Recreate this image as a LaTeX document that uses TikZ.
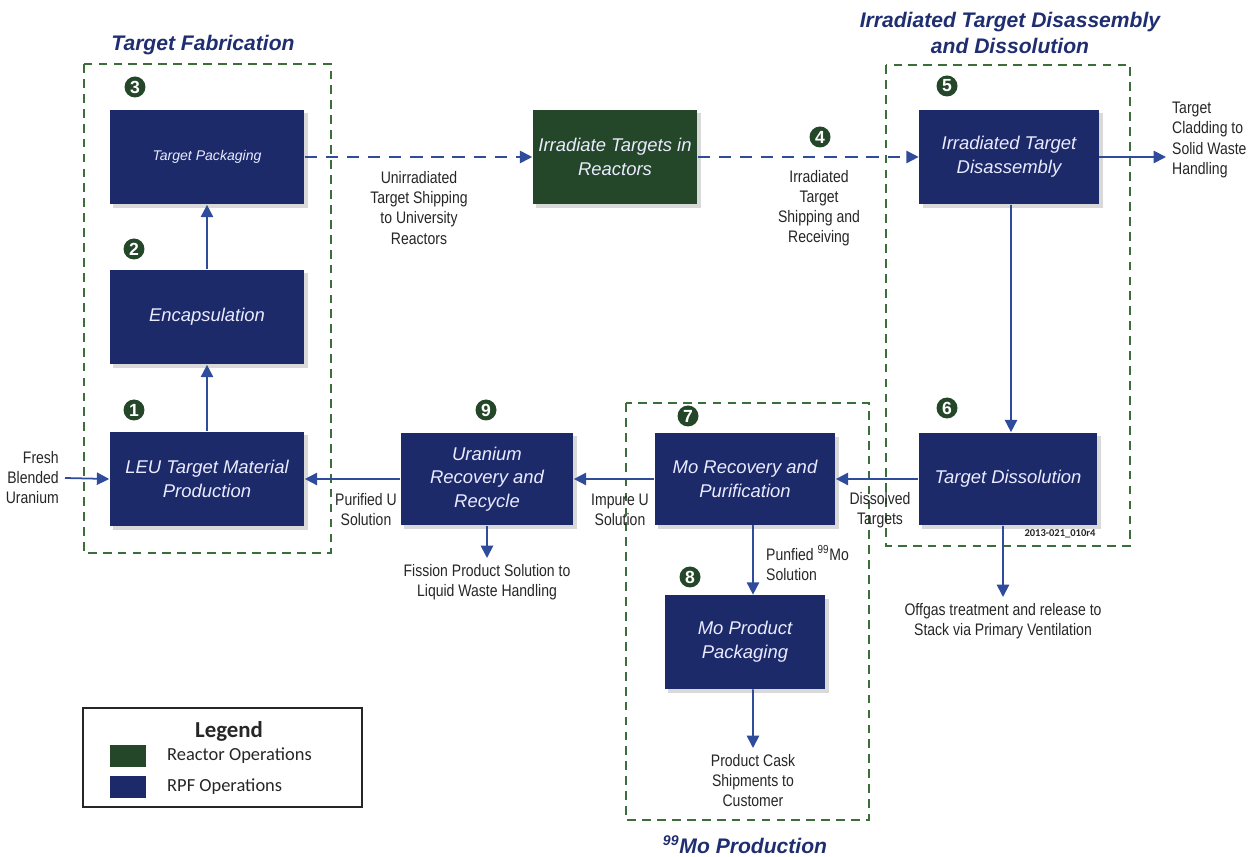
\documentclass[tikz,border=0pt]{standalone}
\usepackage{fontspec}
\setmainfont{Liberation Sans}
\newfontfamily\lblfont{Liberation Sans}[FakeStretch=0.84]
\newfontfamily\legfont{Carlito}
\usepackage{xcolor}
\usepackage{tikz}
\usetikzlibrary{arrows.meta,shadows}

\definecolor{rpfblue}{HTML}{1C2A6A}
\definecolor{rxgreen}{HTML}{24472A}
\definecolor{flowblue}{HTML}{2F4C9C}
\definecolor{grpgreen}{HTML}{3C6E3A}
\definecolor{titleblue}{HTML}{1F2E70}
\definecolor{lbltext}{HTML}{262626}

\tikzset{
  proc/.style={fill=rpfblue, minimum height=1.9cm, text=white!92!blue,
    font=\itshape\fontsize{10.5}{13.5}\selectfont, align=center,
    drop shadow={opacity=0.3, shadow xshift=2pt, shadow yshift=-2pt}},
  grpbox/.style={draw=grpgreen, line width=0.9pt, dash pattern=on 5pt off 3.5pt},
  grptitle/.style={text=titleblue, font=\bfseries\itshape\fontsize{12}{15}\selectfont, align=center},
  badge/.style={circle, fill=rxgreen, text=white, inner sep=0pt, minimum size=0.42cm,
    font=\bfseries\fontsize{10}{10}\selectfont},
  lbl/.style={text=lbltext, font=\lblfont\fontsize{9.5}{11.4}\selectfont, align=center},
  flow/.style={draw=flowblue, line width=1pt, -{Triangle[length=7pt,width=7pt]}},
  ship/.style={flow, dash pattern=on 7pt off 5pt}
}

\begin{document}
\begin{tikzpicture}[x=0.02cm, y=-0.02cm]
\useasboundingbox (0,0) rectangle (1251,857);

% group frames
\draw[grpbox] (84,64) rectangle (331,553);
\draw[grpbox] (886,65) rectangle (1130,546);
\draw[grpbox] (626,403) rectangle (869,820);
\node[grptitle] (fabTitle) at (203,45) {Target Fabrication};
\node[grptitle] (disTitle) at (1010,33) {Irradiated Target Disassembly\\and Dissolution};
\node[grptitle] (moTitle) at (745,845) {\textsuperscript{99}Mo Production};

% process boxes
\node[proc, minimum width=3.9cm, font=\itshape\fontsize{8}{10}\selectfont] (pack) at (207,157) {Target Packaging};
\node[proc, minimum width=3.9cm] (encap) at (207,317) {Encapsulation};
\node[proc, minimum width=3.9cm] (leu) at (207,479) {LEU Target Material\\Production};
\node[proc, minimum width=3.28cm, fill=rxgreen] (irr) at (615,157) {Irradiate Targets in\\Reactors};
\node[proc, minimum width=3.6cm] (disasm) at (1009,157) {Irradiated Target\\Disassembly};
\node[proc, minimum width=3.58cm, minimum height=1.86cm] (diss) at (1008,479) {Target Dissolution};
\node[proc, minimum width=3.62cm, minimum height=1.84cm] (morec) at (745,479) {Mo Recovery and\\Purification};
\node[proc, minimum width=3.46cm, minimum height=1.86cm] (urec) at (487,479) {Uranium\\Recovery and\\Recycle};
\node[proc, minimum width=3.22cm, minimum height=1.88cm] (mopack) at (745,642) {Mo Product\\Packaging};

% step numbers
\node[badge] (n1) at (134,410) {1};
\node[badge] (n2) at (134,249) {2};
\node[badge] (n3) at (135,87) {3};
\node[badge] (n4) at (820,137) {4};
\node[badge] (n5) at (947,86) {5};
\node[badge] (n6) at (947,408) {6};
\node[badge] (n7) at (688,416) {7};
\node[badge] (n8) at (690,577) {8};
\node[badge] (n9) at (486,410) {9};

% labels
\node[lbl] (unirr) at (419,208) {Unirradiated\\Target Shipping\\to University\\Reactors};
\node[lbl] (irrship) at (819,208) {Irradiated\\Target\\Shipping and\\Receiving};
\node[lbl, align=left, anchor=west] (clad) at (1166,140) {Target\\Cladding to\\Solid Waste\\Handling};
\node[lbl, align=right, anchor=east] (fresh) at (65,478) {Fresh\\Blended\\Uranium};
\node[lbl] (puru) at (366,510) {Purified U\\Solution};
\node[lbl] (impu) at (620,510) {Impure U\\Solution};
\node[lbl] (dissolved) at (880,510) {Dissolved\\Targets};
\node[lbl, align=left, anchor=west] (pumo) at (760,563) {Punfied \textsuperscript{99}Mo\\Solution};
\node[lbl, anchor=north] (fission) at (487,558) {Fission Product Solution to\\Liquid Waste Handling};
\node[lbl, anchor=north] (offgas) at (1003,597) {Offgas treatment and release to\\Stack via Primary Ventilation};
\node[lbl, anchor=north] (cask) at (753,748) {Product Cask\\Shipments to\\Customer};
\node[font=\legfont\bfseries\fontsize{6}{7}\selectfont, text=lbltext] (figid) at (1060,534) {2013-021\_010r4};

% flows
\draw[flow] (leu) -- (encap);
\draw[flow] (encap) -- (pack);
\draw[ship] (pack) -- (irr);
\draw[ship] (irr) -- (disasm);
\draw[flow] (disasm.east) -- (disasm.east -| clad.west);
\draw[flow] ([xshift=0.04cm]disasm.south) -- ([xshift=0.06cm]diss.north);
\draw[flow] ([xshift=-0.1cm]diss.south) -- (offgas.north);
\draw[flow] (diss) -- (morec);
\draw[flow] (morec) -- (urec);
\draw[flow] (urec) -- (leu);
\draw[flow] (fresh.east) -- (leu.west);
\draw[flow] (urec.south) -- (fission.north);
\draw[flow] ([xshift=0.16cm]morec.south) -- ([xshift=0.16cm]mopack.north);
\draw[flow] ([xshift=0.16cm]mopack.south) -- (cask.north);

% legend
\node[draw=black!85, line width=1pt, minimum width=5.58cm, minimum height=1.98cm] (legend) at (222.5,757.5) {};
\node[font=\legfont\bfseries\fontsize{13}{15}\selectfont, text=black!85] (legTitle) at (229,731) {Legend};
\node[fill=rxgreen, minimum width=0.72cm, minimum height=0.44cm, inner sep=0pt] (swRx) at (128,756) {};
\node[fill=rpfblue, minimum width=0.72cm, minimum height=0.44cm, inner sep=0pt] (swRpf) at (128,787) {};
\node[anchor=west, font=\legfont\fontsize{10.5}{12}\selectfont, text=black!85] (legRx) at (161,756) {Reactor Operations};
\node[anchor=west, font=\legfont\fontsize{10.5}{12}\selectfont, text=black!85] (legRpf) at (161,787) {RPF Operations};
\end{tikzpicture}
\end{document}
